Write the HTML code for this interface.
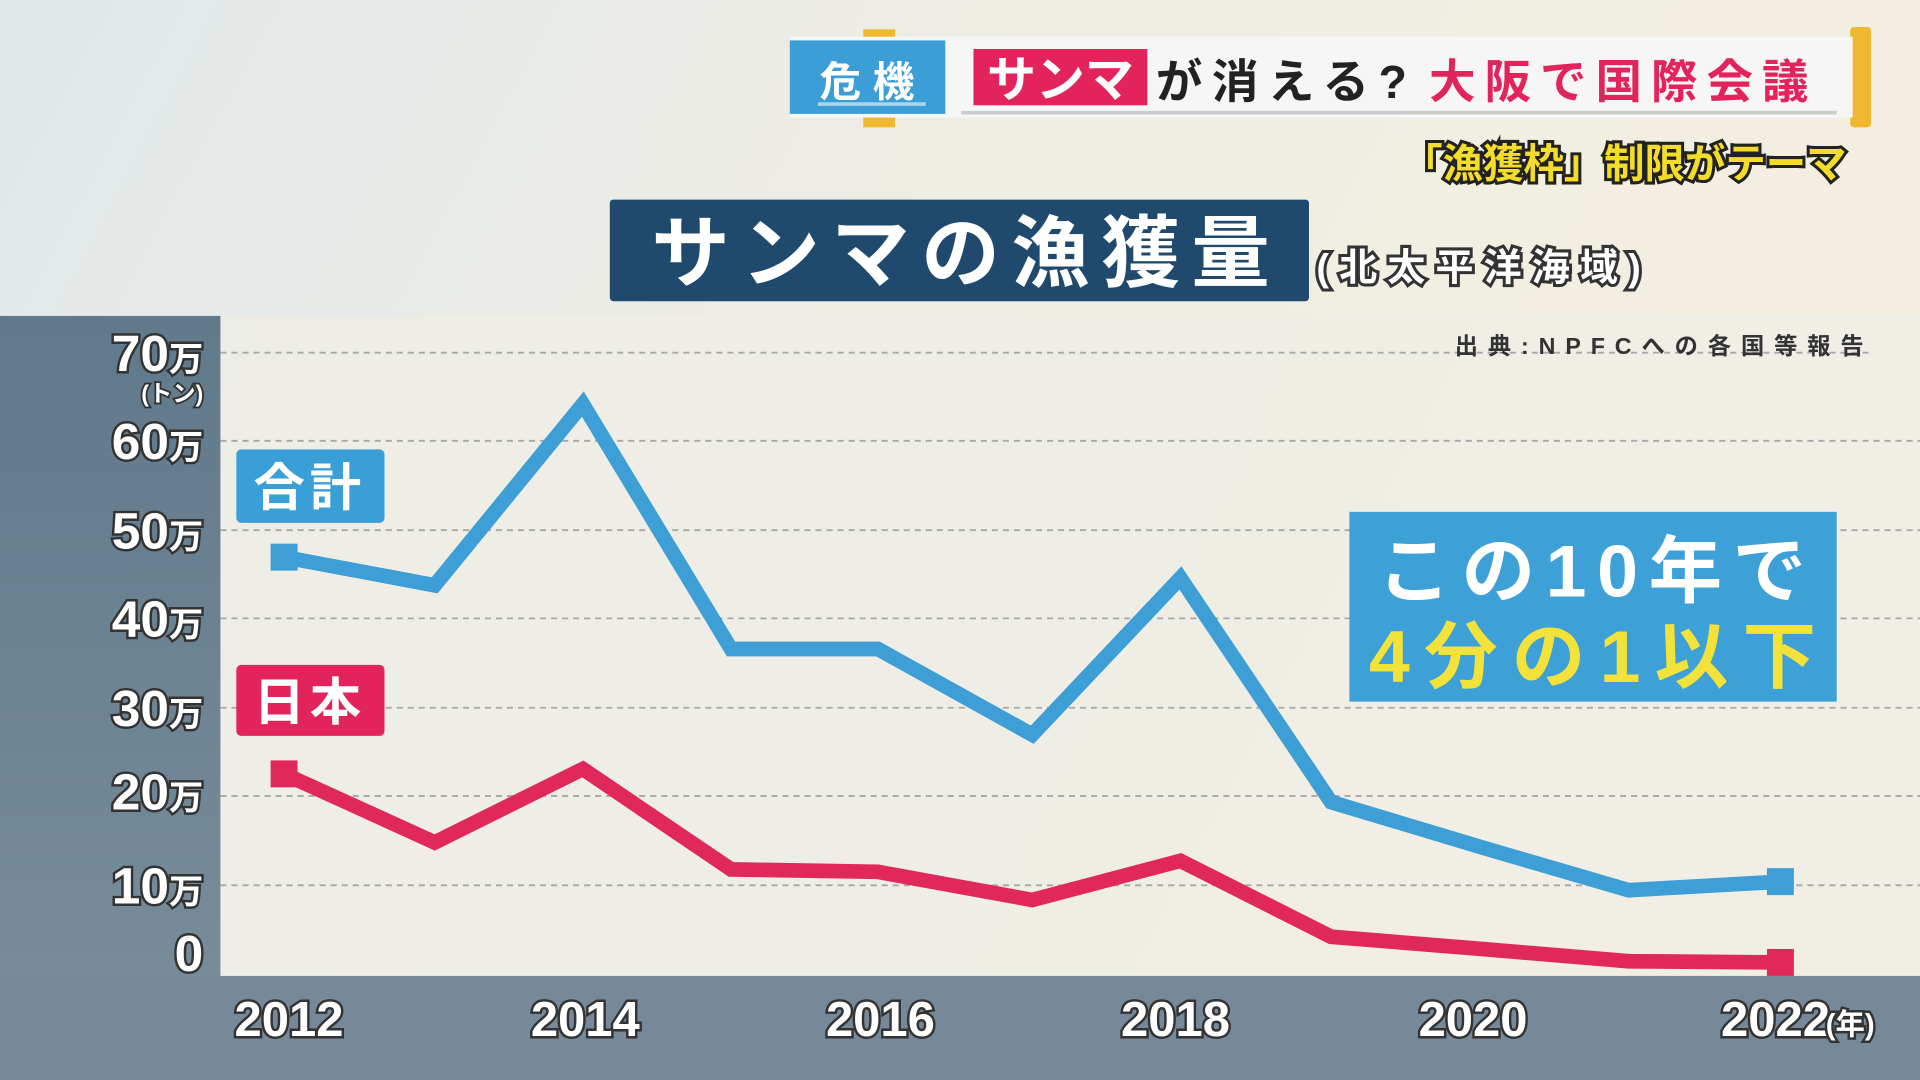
<!DOCTYPE html>
<html><head><meta charset="utf-8"><style>
html,body{margin:0;padding:0;width:1920px;height:1080px;overflow:hidden;}
svg{display:block;}
text{font-family:"Liberation Sans","Noto Sans CJK JP",sans-serif;font-weight:bold;}
</style></head><body>
<svg width="1920" height="1080" viewBox="0 0 1568 882" xmlns="http://www.w3.org/2000/svg">
<defs>
<linearGradient id="bg" x1="0" y1="0" x2="1" y2="0.3">
<stop offset="0" stop-color="#e1e8ea"/><stop offset="0.5" stop-color="#efede4"/><stop offset="1" stop-color="#f3efe0"/>
</linearGradient>
<linearGradient id="lp" x1="0" y1="0" x2="0" y2="1">
<stop offset="0" stop-color="#60798b"/><stop offset="1" stop-color="#7a8f9d"/>
</linearGradient>
</defs>
<rect width="1568" height="882" fill="url(#bg)"/>
<rect x="180" y="258" width="1388" height="539" fill="#efede6" opacity="0.8"/>
<rect x="0" y="258" width="180" height="624" fill="url(#lp)"/>
<rect x="0" y="797" width="1568" height="85" fill="#76899a"/>
<g stroke="#a8a8a8" stroke-width="1.5" stroke-dasharray="5,4">
<line x1="180" y1="288" x2="1530" y2="288"/><line x1="180" y1="360" x2="1568" y2="360"/>
<line x1="180" y1="433" x2="1568" y2="433"/><line x1="180" y1="505" x2="1568" y2="505"/>
<line x1="180" y1="578" x2="1568" y2="578"/><line x1="180" y1="650" x2="1568" y2="650"/>
<line x1="180" y1="723" x2="1568" y2="723"/>
</g>
<rect x="705" y="24" width="26" height="80" fill="#f0b830"/>
<rect x="1511" y="22" width="17" height="82" rx="3" fill="#f0b830"/>
<rect x="645" y="30" width="868" height="66" fill="#f6f6f6"/>
<rect x="645" y="33" width="127" height="60" fill="#3b9ed6"/>
<line x1="668" y1="85" x2="756" y2="85" stroke="#a9d5ee" stroke-width="3"/>
<text x="708" y="79" font-size="34" fill="#fff" text-anchor="middle">危 機</text>
<rect x="795" y="40" width="142" height="46" fill="#e3245c"/>
<text x="866" y="79" font-size="40" fill="#fff" text-anchor="middle">サンマ</text>
<text x="944" y="80" font-size="38" fill="#222" textLength="205" lengthAdjust="spacing">が消える?</text>
<text x="1167" y="80" font-size="38" fill="#e3245c" textLength="310" lengthAdjust="spacing">大阪で国際会議</text>
<line x1="785" y1="92" x2="1500" y2="92" stroke="#ccc" stroke-width="3"/>
<text x="1508" y="145" font-size="33" fill="#f3dc2a" stroke="#222" stroke-width="5" paint-order="stroke" text-anchor="end">「漁獲枠」制限がテーマ</text>
<rect x="498" y="163" width="571" height="83" rx="3" fill="#1f4a6e"/>
<text x="532" y="229" font-size="64" fill="#fff" textLength="505" lengthAdjust="spacing">サンマの漁獲量</text>
<text x="1075" y="229" font-size="31" fill="#fff" stroke="#333" stroke-width="5" paint-order="stroke" textLength="265" lengthAdjust="spacing">(北太平洋海域)</text>
<text x="1188" y="289" font-size="19" fill="#333" font-weight="normal" textLength="334" lengthAdjust="spacing">出典:NPFCへの各国等報告</text>
<g font-size="42" fill="#fff" stroke="#333" stroke-width="4" paint-order="stroke" text-anchor="end">
<text x="166" y="303">70<tspan font-size="28">万</tspan></text>
<text x="166" y="375">60<tspan font-size="28">万</tspan></text>
<text x="166" y="448">50<tspan font-size="28">万</tspan></text>
<text x="166" y="520">40<tspan font-size="28">万</tspan></text>
<text x="166" y="593">30<tspan font-size="28">万</tspan></text>
<text x="166" y="661">20<tspan font-size="28">万</tspan></text>
<text x="166" y="738">10<tspan font-size="28">万</tspan></text>
<text x="166" y="793">0</text>
<text x="166" y="328" font-size="19" stroke-width="3">(トン)</text>
</g>
<g font-size="40" fill="#fff" stroke="#333" stroke-width="4" paint-order="stroke" text-anchor="middle">
<text x="236" y="846">2012</text><text x="478" y="846">2014</text><text x="719" y="846">2016</text>
<text x="960" y="846">2018</text><text x="1203" y="846">2020</text><text x="1450" y="846">2022</text>
<text x="1511" y="845" font-size="24">(年)</text>
</g>
<polyline fill="none" stroke="#3d9fd5" stroke-width="12" points="232,455 355,478 476,330 597,530 717,530 843,600 964,472 1087,655 1210,692 1330,727 1454,720"/>
<rect x="221" y="444" width="22" height="22" fill="#3d9fd5"/>
<rect x="1443" y="709" width="22" height="22" fill="#3d9fd5"/>
<polyline fill="none" stroke="#e0285c" stroke-width="12" points="232,632 355,688 476,628 597,710 717,712 843,735 964,703 1087,765 1210,775 1330,785 1454,786"/>
<rect x="221" y="621" width="22" height="22" fill="#e0285c"/>
<rect x="1443" y="775" width="22" height="22" fill="#e0285c"/>
<rect x="193" y="367" width="121" height="60" rx="4" fill="#3a9fd6"/>
<text x="253" y="413" font-size="42" fill="#fff" text-anchor="middle" letter-spacing="4">合計</text>
<rect x="193" y="543" width="121" height="58" rx="4" fill="#e3245c"/>
<text x="253" y="588" font-size="42" fill="#fff" text-anchor="middle" letter-spacing="4">日本</text>
<rect x="1102" y="418" width="398" height="155" fill="#3da0d7"/>
<text x="1125" y="487" font-size="60" fill="#fff" textLength="350" lengthAdjust="spacing">この10年で</text>
<text x="1118" y="557" font-size="60" fill="#f3e23a" textLength="365" lengthAdjust="spacing">4分の1以下</text>
</svg>
</body></html>
